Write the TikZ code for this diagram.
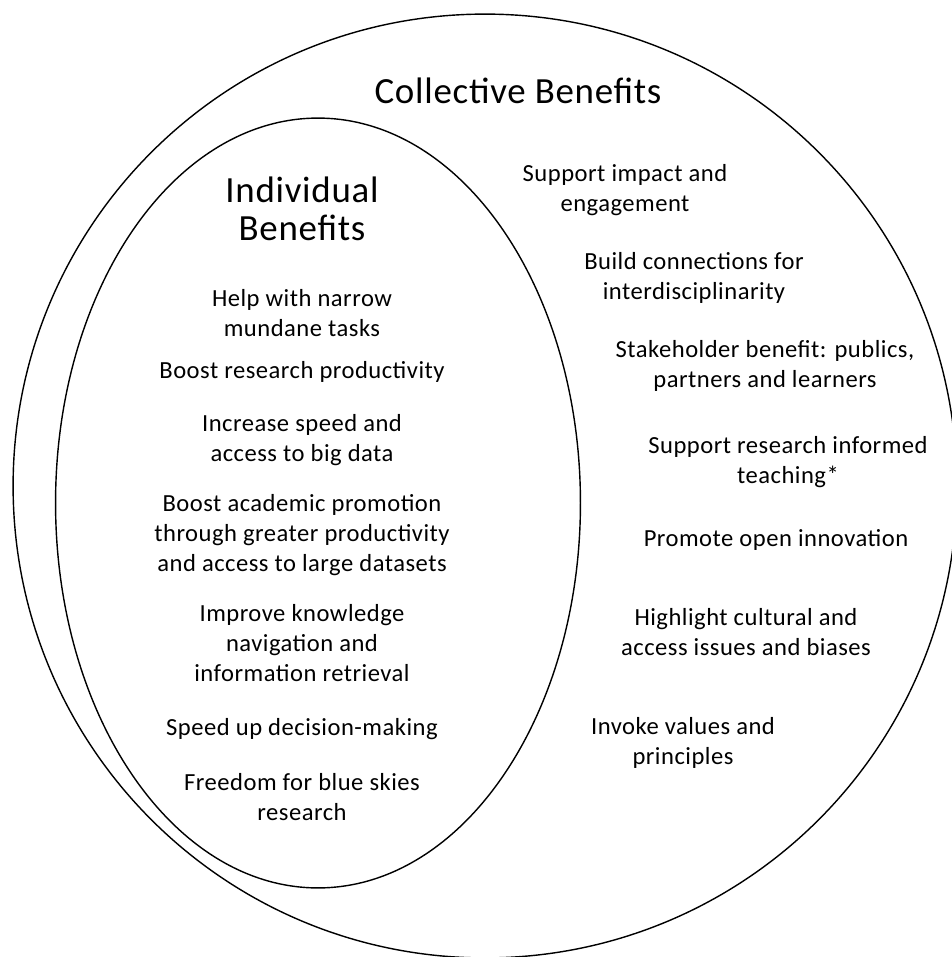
\documentclass[tikz,border=0pt]{standalone}
\usepackage{fontspec}
\setmainfont{Carlito}[LetterSpace=2]
\usetikzlibrary{positioning, shapes}

\begin{document}
\begin{tikzpicture}[x=0.02cm, y=-0.02cm, line width=0.8pt,
    benefit/.style={align=center, inner sep=0pt, font=\fontsize{14}{17}\selectfont},
    heading/.style={align=center, inner sep=0pt, font=\fontsize{21}{21.6}\selectfont}]
      \useasboundingbox (0,0) rectangle (952,957);
      \node[draw, ellipse, inner sep=0pt, minimum width=18.88cm, minimum height=18.88cm] (collective) at (485,486) {};
      \node[draw, ellipse, inner sep=0pt, minimum width=10.5cm, minimum height=15.4cm] (individual) at (318,503) {};
      %
      \node[heading] (collective_title) at (518,91) {Collective Benefits};
      \node[heading] (individual_title) at (302,209) {Individual\\Benefits};

      \node[benefit] (ind_0) at (302,313) {Help with narrow\\mundane tasks};
      \node[benefit] (ind_1) at (302,372) {Boost research productivity};
      \node[benefit] (ind_2) at (302,440) {Increase speed and\\access to big data};
      \node[benefit] (ind_3) at (302,535) {Boost academic promotion\\through greater productivity\\and access to large datasets};
      \node[benefit] (ind_4) at (302,643) {Improve knowledge\\navigation and\\information retrieval};
      \node[benefit] (ind_5) at (302,729) {Speed up decision-making};
      \node[benefit] (ind_6) at (302,797) {Freedom for blue skies\\research};

      \node[benefit] (col_0) at (625,190) {Support impact and\\engagement};
      \node[benefit] (col_1) at (694,278) {Build connections for\\interdisciplinarity};
      \node[benefit] (col_2) at (765,366) {Stakeholder benefit: publics,\\partners and learners};
      \node[benefit] (col_3) at (788,462) {Support research informed\\teaching*};
      \node[benefit] (col_4) at (776,540) {Promote open innovation};
      \node[benefit] (col_5) at (746,632) {Highlight cultural and\\access issues and biases};
      \node[benefit] (col_6) at (683,743) {Invoke values and\\principles};
\end{tikzpicture}
\end{document}
